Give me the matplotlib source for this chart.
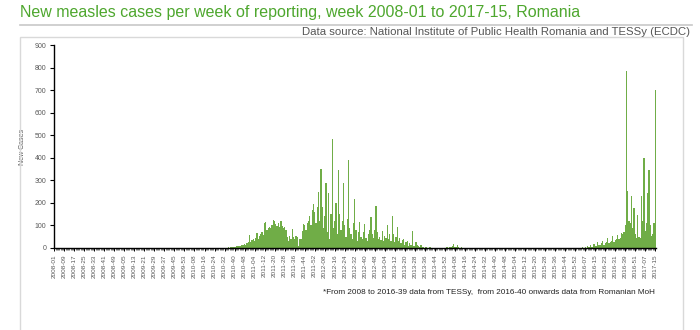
import matplotlib
matplotlib.use("Agg")
import matplotlib.pyplot as plt
from matplotlib.ticker import FixedLocator, MultipleLocator
from matplotlib.patches import Rectangle
from matplotlib.lines import Line2D

# ---------------- data (weekly new measles cases) ----------------
weeks_per_year = {2008: 52, 2009: 53, 2010: 52, 2011: 52, 2012: 52,
                  2013: 52, 2014: 52, 2015: 53, 2016: 52, 2017: 15}

cases_2008 = [0] * 52
cases_2009 = [0] * 53
cases_2010 = [0] * 31 + [1, 2, 1, 3, 2, 4, 3, 5, 4, 6, 8, 7, 10, 9, 14, 12,
                         18, 15, 20, 28, 57]
cases_2011 = [25, 35, 42, 30, 45, 66, 40, 55, 62, 70, 58, 112, 114, 78, 90, 95,
              88, 100, 124, 118, 105, 98, 110, 92, 118, 96, 88, 92, 80, 48, 30,
              52, 40, 85, 50, 42, 55, 48, 10, 40, 38, 75, 105, 100, 80, 110,
              120, 143, 100, 168, 195, 160]
cases_2012 = [110, 180, 250, 120, 350, 180, 90, 140, 290, 70, 245, 40, 150,
              485, 90, 120, 200, 60, 345, 150, 80, 120, 290, 100, 50, 130, 390,
              90, 60, 40, 110, 217, 80, 30, 70, 114, 50, 40, 70, 106, 45, 30,
              60, 80, 139, 60, 45, 80, 188, 70, 40, 50]
cases_2013 = [35, 77, 30, 55, 45, 100, 40, 60, 30, 143, 60, 25, 50, 92, 30, 45,
              20, 35, 40, 15, 25, 30, 10, 20, 15, 77, 10, 8, 25, 12, 10, 5, 12,
              3, 5, 2, 4, 2, 1, 3, 2, 1, 2, 0, 1, 2, 1, 0, 1, 0, 1, 0]
cases_2014 = [3, 5, 2, 6, 4, 8, 18, 6, 3, 12, 4, 2, 3, 1, 2, 0, 1, 0, 0, 2, 0,
              1, 0, 0, 0, 1, 0, 0, 0, 0, 0, 0, 0, 0, 0, 0, 0, 0, 0, 0, 0, 0, 0,
              0, 0, 0, 0, 0, 0, 0, 0, 0]
cases_2015 = [0] * 53
# TESSy data 2016-01 .. 2016-39
cases_2016_tessy = [0, 0, 1, 0, 6, 2, 3, 1, 8, 3, 15, 5, 6, 18, 8, 10, 27, 12,
                    14, 20, 32, 15, 22, 25, 44, 20, 28, 30, 55, 25, 35, 40, 59,
                    38, 45, 66, 60, 70, 103]
# Romanian MoH data 2016-44 .. 2017-15
moh_weeks = [(2016, w) for w in range(44, 53)] + [(2017, w) for w in range(1, 16)]
cases_moh = [785, 251, 120, 110, 229, 90, 177, 60, 44, 148, 50, 44, 229, 120,
             399, 74, 110, 244, 347, 103, 52, 60, 110, 700]

# ---------------- categories ----------------
categories = []
for yr in range(2008, 2016):
    categories += [f"{yr}-{w:02d}" for w in range(1, weeks_per_year[yr] + 1)]
categories += [f"2016-{w:02d}" for w in range(1, 40)]
categories += [f"{y}-{w:02d}" for y, w in moh_weeks]

values = (cases_2008 + cases_2009 + cases_2010 + cases_2011 + cases_2012 +
          cases_2013 + cases_2014 + cases_2015 + cases_2016_tessy + cases_moh)
assert len(values) == len(categories)
n = len(values)

title = "New measles cases per week of reporting, week 2008-01 to 2017-15, Romania"
source = "Data source: National Institute of Public Health Romania and TESSy (ECDC)"
footnote = ("*From 2008 to 2016-39 data from TESSy,  from 2016-40 onwards data "
            "from Romanian MoH")

# ---------------- figure ----------------
W, H = 700, 330
fig = plt.figure(figsize=(W / 100, H / 100), dpi=100)
fig.patch.set_facecolor("white")

def fx(px):
    return px / W

def fy(py):
    return 1 - py / H

# title and source
fig.text(fx(20), fy(13), title, fontsize=11.5, color="#4ea72e",
         family="Liberation Sans", ha="left", va="center")
fig.add_artist(Line2D([fx(20), fx(692)], [fy(25), fy(25)], color="#c8c8c8",
                      lw=1.2, transform=fig.transFigure))
fig.text(fx(690), fy(32), source, fontsize=8.2, color="#555555",
         family="Liberation Sans", ha="right", va="center")

# light frame of the chart area
fig.add_artist(Rectangle((fx(20), fy(340)), fx(683) - fx(20), fy(37) - fy(340),
                         transform=fig.transFigure, fill=False,
                         edgecolor="#d9d9d9", lw=1.0))

# axes
ax = fig.add_axes([fx(53.5), fy(248), fx(656) - fx(53.5), fy(45) - fy(248)])
ax.bar(range(n), values, width=1.0, color="#70ad47", linewidth=0)
ax.set_xlim(-0.6, n - 0.4)
ax.set_ylim(0, 900)

for s in ["top", "right"]:
    ax.spines[s].set_visible(False)
ax.spines["left"].set_color("black")
ax.spines["bottom"].set_color("black")
ax.spines["left"].set_linewidth(1.0)
ax.spines["bottom"].set_linewidth(1.0)

ax.yaxis.set_major_locator(MultipleLocator(100))
ax.tick_params(axis="y", labelsize=5, labelcolor="#595959", length=3,
               width=0.8, color="black", pad=2)
for lab in ax.get_yticklabels():
    lab.set_family("Liberation Sans")

tick_pos = list(range(0, n, 8))
ax.set_xticks(tick_pos)
ax.set_xticklabels([categories[i] for i in tick_pos], rotation=90,
                   fontsize=4.6, color="#595959", family="Liberation Sans")
ax.xaxis.set_minor_locator(FixedLocator(range(n)))
ax.tick_params(axis="x", which="major", length=2.5, width=0.7, color="black",
               pad=2)
ax.tick_params(axis="x", which="minor", length=1.6, width=0.45, color="#222222")

ax.set_ylabel("New Cases", fontsize=5, color="#595959", family="Liberation Sans",
              labelpad=6)

fig.text(fx(655), fy(292), footnote, fontsize=5.9, color="#222222",
         family="Liberation Sans", ha="right", va="center")

fig.savefig("out.png", dpi=100)
